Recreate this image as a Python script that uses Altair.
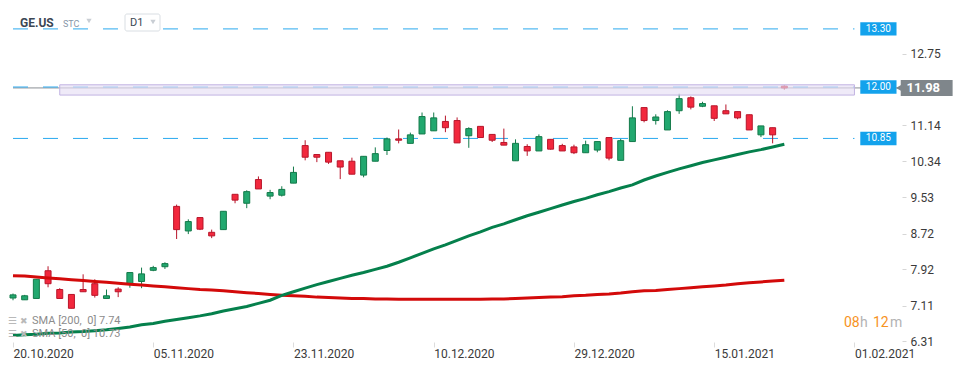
import altair as alt
import pandas as pd

# ---- data (daily candles, index = trading day) ----
opens  = [7.28, 7.24, 7.27, 7.89, 7.47, 7.36, 7.47, 7.60, 7.27, 7.48,
          7.59, 7.65, 7.90, 7.98, 9.33, 8.78, 9.08, 8.75, 8.81, 9.60,
          9.40, 9.93, 9.56, 9.58, 9.85, 10.69, 10.49, 10.54, 10.35, 10.34,
          10.03, 10.34, 10.58, 10.84, 10.74, 10.95, 11.02, 11.23, 11.25, 10.91,
          11.12, 10.94, 10.76, 10.35, 10.67, 10.57, 10.83, 10.69, 10.66, 10.53,
          10.59, 10.87, 10.36, 10.78, 11.54, 11.25, 11.04, 11.47, 11.76, 11.57,
          11.58, 11.47, 11.45, 11.38, 10.93, 11.09, 12.02]
highs  = [7.38, 7.35, 7.70, 7.99, 7.50, 7.36, 7.81, 7.70, 7.47, 7.52,
          7.85, 7.96, 8.00, 8.08, 9.37, 9.04, 9.08, 8.81, 9.22, 9.60,
          9.69, 10.00, 9.70, 9.78, 10.22, 10.81, 10.49, 10.54, 10.35, 10.42,
          10.45, 10.65, 10.87, 11.05, 10.98, 11.43, 11.43, 11.36, 11.32, 11.10,
          11.12, 10.94, 11.07, 10.83, 10.72, 10.94, 10.83, 10.73, 10.71, 10.80,
          10.78, 10.87, 10.84, 11.57, 11.54, 11.39, 11.48, 11.85, 11.79, 11.67,
          11.58, 11.61, 11.45, 11.38, 11.13, 11.09, 12.04]
lows   = [7.23, 7.24, 7.27, 7.52, 7.27, 7.05, 7.42, 7.29, 7.27, 7.30,
          7.51, 7.50, 7.88, 7.93, 8.60, 8.71, 8.80, 8.62, 8.81, 9.40,
          9.29, 9.72, 9.49, 9.55, 9.85, 10.36, 10.32, 10.28, 9.94, 10.05,
          9.98, 10.34, 10.48, 10.74, 10.74, 10.95, 11.02, 10.99, 10.75, 10.64,
          10.87, 10.77, 10.70, 10.35, 10.46, 10.57, 10.60, 10.57, 10.50, 10.53,
          10.54, 10.36, 10.36, 10.78, 11.21, 11.16, 11.04, 11.40, 11.50, 11.55,
          11.24, 11.40, 11.28, 11.04, 10.88, 10.74, 11.94]
closes = [7.35, 7.33, 7.70, 7.60, 7.27, 7.05, 7.42, 7.34, 7.33, 7.42,
          7.85, 7.82, 7.96, 8.05, 8.81, 8.99, 8.82, 8.67, 9.22, 9.47,
          9.66, 9.72, 9.64, 9.71, 10.09, 10.43, 10.43, 10.32, 10.21, 10.05,
          10.45, 10.51, 10.84, 10.81, 10.93, 11.34, 11.31, 11.09, 10.75, 11.07,
          10.87, 10.81, 10.70, 10.74, 10.57, 10.89, 10.61, 10.57, 10.53, 10.71,
          10.78, 10.41, 10.80, 11.31, 11.25, 11.33, 11.45, 11.74, 11.55, 11.63,
          11.30, 11.40, 11.31, 11.04, 11.13, 10.93, 11.98]
sma200 = [7.78, 7.77, 7.75, 7.73, 7.71, 7.69, 7.67, 7.65, 7.63, 7.61,
          7.59, 7.57, 7.55, 7.53, 7.51, 7.49, 7.47, 7.46, 7.44, 7.42,
          7.40, 7.38, 7.36, 7.34, 7.33, 7.32, 7.30, 7.29, 7.28, 7.27,
          7.27, 7.26, 7.26, 7.25, 7.25, 7.25, 7.25, 7.25, 7.25, 7.25,
          7.25, 7.26, 7.26, 7.27, 7.28, 7.29, 7.30, 7.31, 7.33, 7.34,
          7.36, 7.37, 7.39, 7.42, 7.44, 7.45, 7.47, 7.49, 7.51, 7.53,
          7.55, 7.57, 7.60, 7.62, 7.64, 7.66, 7.68]
sma50  = [6.44, 6.46, 6.47, 6.49, 6.50, 6.52, 6.53, 6.55, 6.57, 6.60,
          6.63, 6.68, 6.71, 6.76, 6.80, 6.84, 6.88, 6.93, 6.99, 7.04,
          7.09, 7.16, 7.23, 7.34, 7.42, 7.50, 7.58, 7.65, 7.72, 7.79,
          7.85, 7.92, 7.99, 8.08, 8.18, 8.28, 8.38, 8.47, 8.57, 8.67,
          8.76, 8.86, 8.94, 9.03, 9.12, 9.20, 9.28, 9.36, 9.44, 9.51,
          9.59, 9.66, 9.74, 9.81, 9.92, 10.01, 10.09, 10.17, 10.24, 10.31,
          10.37, 10.43, 10.49, 10.55, 10.60, 10.66, 10.72]

x_tick_idx = [0, 12, 24, 36, 48, 60, 72]
x_tick_lbl = ["20.10.2020", "05.11.2020", "23.11.2020", "10.12.2020",
              "29.12.2020", "15.01.2021", "01.02.2021"]
y_ticks = [6.31, 7.11, 7.92, 8.72, 9.53, 10.34, 11.14, 12.75]
levels = [13.30, 12.00, 10.85]
level_lbl = ["13.30", "12.00", "10.85"]
last_price = 11.98
band = [11.82, 12.05]

# ---- tables ----
n = len(opens)
candles = pd.DataFrame({
    "i": list(range(n)), "o": opens, "h": highs, "l": lows, "c": closes,
    "dir": ["up" if c >= o else "down" for o, c in zip(opens, closes)],
})
sma = pd.DataFrame({"i": list(range(n)), "s200": sma200, "s50": sma50})

FONT = "Roboto"
NB = "\u00a0"
xscale = alt.Scale(domain=[0, 75.47], nice=False, zero=False)
yscale = alt.Scale(domain=[6.296, 13.768], nice=False, zero=False)
label_expr = "[" + ",".join("'%s'" % s for s in x_tick_lbl) + "][round(datum.value/12)]"
xaxis = alt.Axis(values=x_tick_idx, labelExpr=label_expr, labelAlign="left",
                 labelBaseline="top", labelPadding=1, tickSize=5, tickColor="#dcdcdc",
                 domain=False, grid=False, labelFont=FONT, labelFontSize=12,
                 labelColor="#3a3a3a", labelOverlap=False, labelFlush=False, title=None)
yaxis = alt.Axis(orient="right", values=y_ticks, format=".2f", tickSize=4, offset=2,
                 tickColor="#d6d6d6", labelPadding=4, domain=False, grid=False,
                 labelFont=FONT, labelFontSize=12, labelColor="#3a3a3a",
                 labelOverlap=False, title=None)


def X(f):
    return alt.X(f, scale=xscale, axis=xaxis)


def Y(f):
    return alt.Y(f, scale=yscale, axis=yaxis)


up_dn = alt.Scale(domain=["up", "down"], range=["#22a86f", "#f2283d"])
up_dn_stroke = alt.Scale(domain=["up", "down"], range=["#137a4a", "#b8152a"])

wicks = alt.Chart(candles).mark_rule(strokeWidth=1).encode(
    x=X("i:Q"), y=Y("l:Q"), y2="h:Q",
    color=alt.Color("dir:N", scale=up_dn_stroke, legend=None))
bodies = alt.Chart(candles).mark_bar(size=6, strokeWidth=1).encode(
    x=X("i:Q"), y=Y("o:Q"), y2="c:Q",
    fill=alt.Fill("dir:N", scale=up_dn, legend=None),
    stroke=alt.Stroke("dir:N", scale=up_dn_stroke, legend=None))

line200 = alt.Chart(sma).mark_line(color="#d30a0a", strokeWidth=3).encode(
    x=X("i:Q"), y=Y("s200:Q"))
line50 = alt.Chart(sma).mark_line(color="#05804c", strokeWidth=3).encode(
    x=X("i:Q"), y=Y("s50:Q"))

band_df = pd.DataFrame({"x0": [4.0], "x1": [72.0], "y0": [band[0]], "y1": [band[1]]})
band_layer = alt.Chart(band_df).mark_rect(fill="#e6dff5", fillOpacity=0.65,
                                          stroke="#c2b3e2", strokeWidth=1).encode(
    x=X("x0:Q"), x2="x1:Q", y=Y("y0:Q"), y2="y1:Q")

price_df = pd.DataFrame({"x0": [0.0], "x1": [75.9], "y": [last_price]})
price_line = alt.Chart(price_df).mark_rule(color="#8a8f94", strokeWidth=1).encode(
    x=X("x0:Q"), x2="x1:Q", y=Y("y:Q"))

lev_df = pd.DataFrame({"x0": [0.0] * 3, "x1": [72.0] * 3, "y": levels,
                       "bx0": [72.5] * 3, "bx1": [75.6] * 3,
                       "by0": [v - 0.15 for v in levels], "by1": [v + 0.15 for v in levels],
                       "tx": [74.05] * 3, "t": level_lbl})
lev_lines = alt.Chart(lev_df).mark_rule(color="#2aa9ef", strokeWidth=1,
                                        strokeDash=[15, 15]).encode(
    x=X("x0:Q"), x2="x1:Q", y=Y("y:Q"))
lev_boxes = alt.Chart(lev_df).mark_rect(color="#13a2ec").encode(
    x=X("bx0:Q"), x2="bx1:Q", y=Y("by0:Q"), y2="by1:Q")
lev_text = alt.Chart(lev_df).mark_text(color="white", fontSize=10, font=FONT,
                                       align="center", baseline="middle").encode(
    x=X("tx:Q"), y=Y("y:Q"), text="t:N")

tag_df = pd.DataFrame({"x0": [75.96], "x1": [80.4], "y0": [last_price - 0.18],
                       "y1": [last_price + 0.18], "tip": [75.86], "tx": [76.45],
                       "y": [last_price], "t": ["%.2f" % last_price]})
tag_rect = alt.Chart(tag_df).mark_rect(color="#7f868b").encode(
    x=X("x0:Q"), x2="x1:Q", y=Y("y0:Q"), y2="y1:Q")
tag_tip = alt.Chart(tag_df).mark_point(shape="triangle-left", filled=True, size=70,
                                       color="#7f868b", opacity=1).encode(
    x=X("tip:Q"), y=Y("y:Q"))
tag_text = alt.Chart(tag_df).mark_text(color="white", fontSize=13, fontWeight="bold",
                                       font=FONT, align="left", baseline="middle").encode(
    x=X("tx:Q"), y=Y("y:Q"), text="t:N")


def label(t, px, py, size, color, weight="normal", font=FONT, align="left"):
    return alt.Chart(pd.DataFrame({"t": [t]})).mark_text(
        align=align, baseline="middle", fontSize=size, color=color,
        fontWeight=weight, font=font).encode(
        x=alt.value(px), y=alt.value(py), text="t:N")


def tri(px, py, size, color):
    return alt.Chart(pd.DataFrame({"t": [0]})).mark_point(
        shape="triangle-down", filled=True, size=size, color=color, opacity=1).encode(
        x=alt.value(px), y=alt.value(py))


d1_box = alt.Chart(pd.DataFrame({"t": [0]})).mark_rect(
    fill="white", stroke="#d9dee3", strokeWidth=1, cornerRadius=2).encode(
    x=alt.value(117), x2=alt.value(152), y=alt.value(6), y2=alt.value(23))

header = [
    label("GE.US", 12, 15, 12, "#3b4754", weight="bold"),
    label("STC", 55, 16, 9, "#8796a8"),
    tri(81, 13, 28, "#c9ced4"),
    d1_box,
    label("D1", 122, 15, 11, "#3b4754"),
    tri(145, 14, 28, "#c9ced4"),
]
legend = [
    label("\u2630", 0, 313, 10, "#b9b9b9", font="DejaVu Sans"),
    label("\u2716", 12, 313, 9, "#b9b9b9", font="DejaVu Sans"),
    label("SMA" + NB + "[200," + NB + NB + "0]" + NB + "7.74", 24, 313, 11, "#8c8c8c"),
    label("\u2630", 0, 326, 10, "#b9b9b9", font="DejaVu Sans"),
    label("\u2716", 12, 326, 9, "#b9b9b9", font="DejaVu Sans"),
    label("SMA" + NB + "[50," + NB + NB + "0]" + NB + "10.73", 24, 326, 11, "#8c8c8c"),
]
timer = [
    label("08", 836, 315, 14, "#f7931e"),
    label("h", 852, 315, 14, "#b3b3b3"),
    label("12", 865, 315, 14, "#f7931e"),
    label("m", 882, 315, 14, "#b3b3b3"),
]

chart = alt.layer(
    price_line, lev_lines, wicks, bodies, line200, line50, band_layer,
    lev_boxes, lev_text, tag_rect, tag_tip, tag_text,
    *header, *legend, *timer,
).properties(
    width=892, height=334,
    autosize=alt.AutoSizeParams(type="none"),
    padding={"left": 0, "top": 0, "right": 62, "bottom": 24},
    background="white",
).configure_view(stroke=None)

chart.save("out.html", embed_options={"renderer": "svg", "actions": False})
